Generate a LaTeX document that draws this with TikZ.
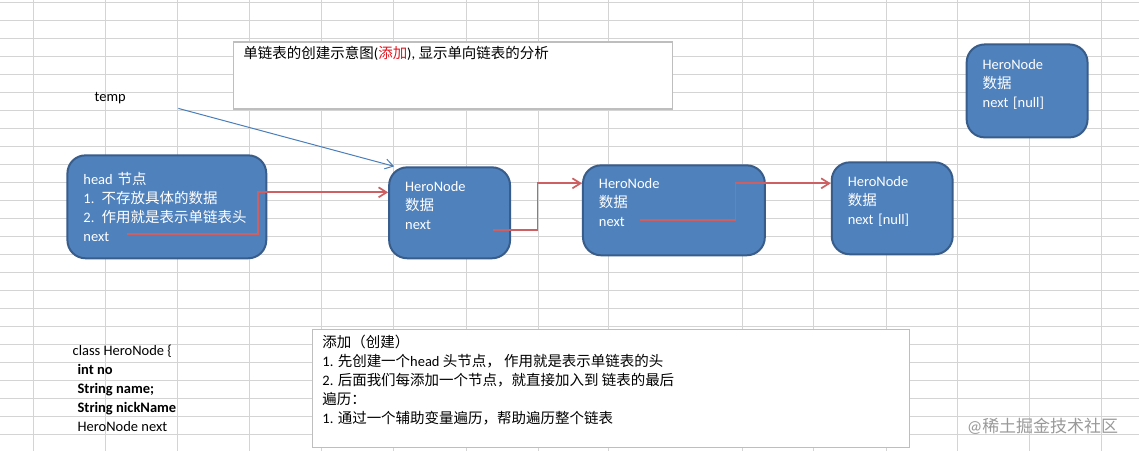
\documentclass[tikz,border=0pt]{standalone}
\usepackage{fontspec}
\setmainfont{Carlito}
\newfontfamily\zhfont{Noto Sans CJK SC}
\newcommand{\zh}[1]{{\zhfont #1}}
\newcommand{\tailgap}{\\[-3.5pt]\mbox{}}
\usetikzlibrary{arrows.meta, positioning, calc}
\definecolor{nodefill}{RGB}{79,129,189}
\definecolor{nodeedge}{RGB}{56,93,138}
\definecolor{linkred}{RGB}{204,96,98}
\definecolor{linkblue}{RGB}{74,126,187}
\definecolor{gridgray}{RGB}{212,212,212}
\definecolor{boxgray}{RGB}{190,190,190}
\definecolor{addred}{RGB}{225,20,30}

\begin{document}
\begin{tikzpicture}[x=1pt, y=-1pt,
      heronode/.style={
        rectangle, draw=nodeedge, fill=nodefill, line width=2pt,
        rounded corners=18pt, text=white, align=left, inner xsep=16pt,
        font=\fontsize{14.5}{19}\selectfont
      },
      notebox/.style={
        rectangle, draw=boxgray, fill=white, line width=1.2pt,
        anchor=north west, inner sep=0pt
      },
      plain/.style={inner sep=0pt, align=left, font=\fontsize{14.5}{19}\selectfont},
      gridline/.style={draw=gridgray, line width=1pt},
      nextarrow/.style={-{Straight Barb[length=8pt, width=10pt]}, line width=1.7pt, color=linkred},
      temparrow/.style={-{Straight Barb[length=8pt, width=10pt]}, line width=1pt, color=linkblue}
    ]
      % --- sheet background and cell grid ---
      \fill[white] (0,0) rectangle (1139,451);
      \foreach \row in {0,...,24}
        \draw[gridline] (0,{2.5+18*\row}) -- (1139,{2.5+18*\row});
      \foreach \col in {33,105,177,249,321,393,466,538,609,743,814,887,958,1030,1102}
        \draw[gridline] (\col,0) -- (\col,451);

      % --- title note ---
      \node[notebox, minimum width=439pt, minimum height=67pt] (titlebox) at (233,41) {};
      \node[plain, anchor=west] (titletext) at (243,53)
        {\zh{单链表的创建示意图}(\textcolor{addred}{\zh{添加}}), \zh{显示单向链表的分析}};

      \node[plain, anchor=west] (templabel) at (94,98) {temp};

      % --- the linked nodes ---
      \node[heronode, text width=167pt, minimum height=103pt] (head) at (166.5,206.5)
        {head \zh{节点}\\1. \zh{不存放具体的数据}\\2. \zh{作用就是表示单链表头}\\next};
      \node[heronode, text width=89pt, minimum height=91pt] (hero1) at (449.5,212.5)
        {HeroNode\\\zh{数据}\\next\tailgap};
      \node[heronode, text width=150pt, minimum height=90pt] (hero2) at (674,210)
        {HeroNode\\\zh{数据}\\next\tailgap};
      \node[heronode, text width=89pt, minimum height=92pt] (hero3) at (892.5,208)
        {HeroNode\\\zh{数据}\\next [null]\tailgap};
      \node[heronode, text width=89pt, minimum height=93pt] (heronew) at (1027.5,90.5)
        {HeroNode\\\zh{数据}\\next [null]\tailgap};

      % --- next pointers: elbow links, bend half way ---
      \coordinate (headnext) at (127,234);
      \coordinate (hero1next) at (493,230);
      \coordinate (hero2next) at (640,220);
      \coordinate (hero1in) at (hero1.west |- 0,192);
      \coordinate (hero2in) at (hero2.west |- 0,183);
      \coordinate (hero3in) at (hero3.west |- 0,183);
      \draw[nextarrow] (headnext) -| ($(headnext)!0.5!(hero1in)$) |- (hero1in);
      \draw[nextarrow] (hero1next) -| ($(hero1next)!0.5!(hero2in)$) |- (hero2in);
      \draw[nextarrow] (hero2next) -| ($(hero2next)!0.5!(hero3in)$) |- (hero3in);

      % --- temp pointer ---
      \coordinate (tempfrom) at (178,108);
      \draw[temparrow] (tempfrom) -- ($(hero1.north west)+(6,0)$);

      % --- class listing ---
      \node[plain, anchor=north west] (classtext) at (72,345)
        {class HeroNode \{\\
         \hspace{5pt}\textbf{int no}\\
         \hspace{5pt}\textbf{String name;}\\
         \hspace{5pt}\textbf{String nickName}\\
         \hspace{5pt}HeroNode next};

      % --- steps note ---
      \node[notebox, minimum width=597pt, minimum height=118pt] (stepbox) at (312,329) {};
      \node[plain, anchor=north west] (steptext) at (322,335)
        {\zh{添加（创建）}\\
         1. \zh{先创建一个}head \zh{头节点， 作用就是表示单链表的头}\\
         2. \zh{后面我们每添加一个节点，就直接加入到 链表的最后}\\
         \zh{遍历：}\\
         1. \zh{通过一个辅助变量遍历，帮助遍历整个链表}};

      \node[font=\fontsize{17}{20}\selectfont, text=black!40, inner sep=0pt] (mark) at (1043,426)
        {@\zh{稀土掘金技术社区}};
    \end{tikzpicture}
\end{document}
